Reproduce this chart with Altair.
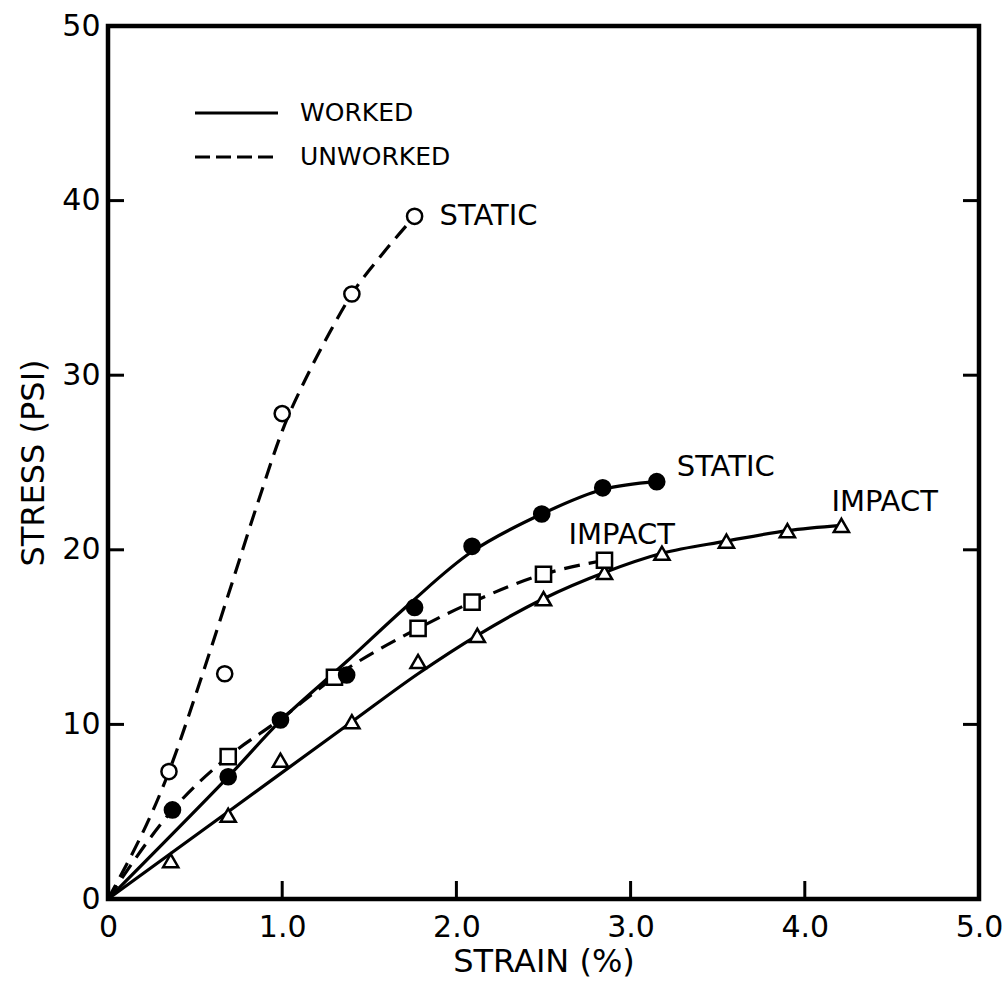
import altair as alt
import pandas as pd

W, H = 871, 873
FONT = "DejaVu Sans"

# ---- measured specimens (strain %, stress psi) ----
uw_static_strain = [0.35, 0.67, 1.00, 1.40, 1.76]
uw_static_stress = [7.3, 12.9, 27.8, 34.65, 39.1]

w_static_strain = [0.37, 0.69, 0.99, 1.37, 1.76, 2.09, 2.49, 2.84, 3.15]
w_static_stress = [5.1, 7.0, 10.25, 12.83, 16.7, 20.2, 22.05, 23.55, 23.9]

uw_impact_strain = [0.69, 1.30, 1.78, 2.09, 2.50, 2.85]
uw_impact_stress = [8.15, 12.7, 15.5, 17.0, 18.6, 19.4]

w_impact_strain = [0.36, 0.69, 0.99, 1.40, 1.78, 2.12, 2.50, 2.85, 3.18, 3.55, 3.90, 4.21]
w_impact_stress = [2.2, 4.8, 7.95, 10.15, 13.6, 15.1, 17.2, 18.7, 19.8, 20.5, 21.1, 21.4]

# ---- faired curves drawn through the data ----
uw_static_fit_x = [0, 0.35, 0.53, 0.68, 0.87, 1.00, 1.15, 1.27, 1.40, 1.58, 1.76]
uw_static_fit_y = [0, 7.3, 12.5, 17.1, 23.0, 26.8, 30.1, 32.4, 34.65, 37.0, 39.1]

w_static_fit_x = [0, 0.69, 0.99, 1.37, 1.73, 2.09, 2.49, 2.84, 3.15]
w_static_fit_y = [0, 7.0, 10.2, 13.6, 16.9, 19.9, 22.05, 23.45, 23.9]

uw_impact_fit_x = [0, 0.37, 0.69, 0.99, 1.30, 1.78, 2.09, 2.50, 2.85]
uw_impact_fit_y = [0, 5.1, 8.15, 10.3, 12.7, 15.5, 17.0, 18.6, 19.4]

w_impact_fit_x = [0, 0.69, 1.40, 1.78, 2.12, 2.50, 2.85, 3.18, 3.55, 3.90, 4.21]
w_impact_fit_y = [0, 5.0, 10.15, 12.9, 15.1, 17.2, 18.7, 19.8, 20.5, 21.1, 21.4]

# ---- axis ticks ----
x_tick_values = [0, 1, 2, 3, 4, 5]
y_tick_values = [0, 10, 20, 30, 40, 50]
x_inner_ticks = [1, 2, 3, 4]
y_inner_ticks = [10, 20, 30, 40]

x_axis = alt.Axis(
    values=x_tick_values, domain=False, ticks=False, grid=False, labelFlush=False,
    labelExpr="datum.value == 0 ? '0' : format(datum.value, '.1f')",
    labelFont=FONT, labelFontSize=30, labelColor="black", labelPadding=13,
    title="STRAIN (%)", titleFont=FONT, titleFontSize=32, titleFontWeight="normal",
    titleColor="black", titlePadding=4,
)
y_axis = alt.Axis(
    values=y_tick_values, domain=False, ticks=False, grid=False, labelFlush=False,
    labelFont=FONT, labelFontSize=30, labelColor="black", labelPadding=8,
    title="STRESS (PSI)", titleFont=FONT, titleFontSize=32, titleFontWeight="normal",
    titleColor="black", titlePadding=11,
)
X = alt.X("strain:Q", scale=alt.Scale(domain=[0, 5], nice=False), axis=x_axis)
Y = alt.Y("stress:Q", scale=alt.Scale(domain=[0, 50], nice=False), axis=y_axis)


def frame(xs, ys):
    return pd.DataFrame({"strain": xs, "stress": ys})


def curve(xs, ys, dashed, how="monotone"):
    style = dict(color="black", strokeWidth=3.2, interpolate=how)
    if dashed:
        style["strokeDash"] = [16, 9]
    return alt.Chart(frame(xs, ys)).mark_line(**style).encode(x=X, y=Y)


def markers(xs, ys, shape, solid):
    return alt.Chart(frame(xs, ys)).mark_point(
        shape=shape, size=230, filled=True, opacity=1,
        fill="black" if solid else "white", stroke="black", strokeWidth=2.5,
    ).encode(x=X, y=Y)


def end_label(xs, ys, text, dx, dy):
    return alt.Chart(frame(xs[-1:], ys[-1:])).mark_text(
        text=text, align="left", baseline="middle", dx=dx, dy=dy,
        font=FONT, fontSize=29, color="black",
    ).encode(x=X, y=Y)


curves = [
    curve(uw_static_fit_x, uw_static_fit_y, True),
    curve(w_static_fit_x, w_static_fit_y, False, "catmull-rom"),
    curve(uw_impact_fit_x, uw_impact_fit_y, True),
    curve(w_impact_fit_x, w_impact_fit_y, False),
]
points = [
    markers(w_impact_strain, w_impact_stress, "triangle-up", False),
    markers(uw_impact_strain, uw_impact_stress, "square", False),
    markers(w_static_strain, w_static_stress, "circle", True),
    markers(uw_static_strain, uw_static_stress, "circle", False),
]
labels = [
    end_label(uw_static_strain, uw_static_stress, "STATIC", 25, 0),
    end_label(w_static_strain, w_static_stress, "STATIC", 20, -15),
    end_label(uw_impact_strain, uw_impact_stress, "IMPACT", -36, -25),
    end_label(w_impact_strain, w_impact_stress, "IMPACT", -10, -23),
]

# inward tick marks on left, right and bottom edges
tick_style = dict(color="black", strokeWidth=3)
y_ticks = pd.DataFrame({"stress": y_inner_ticks})
x_ticks = pd.DataFrame({"strain": x_inner_ticks})
ticks = [
    alt.Chart(y_ticks).mark_rule(**tick_style).encode(y=Y, x=alt.value(0), x2=alt.value(16)),
    alt.Chart(y_ticks).mark_rule(**tick_style).encode(y=Y, x=alt.value(W - 16), x2=alt.value(W)),
    alt.Chart(x_ticks).mark_rule(**tick_style).encode(x=X, y=alt.value(H), y2=alt.value(H - 18)),
]

# line-style key
key_rows = pd.DataFrame({"k": [0]})
key = [
    alt.Chart(key_rows).mark_rule(color="black", strokeWidth=3).encode(
        x=alt.value(87), x2=alt.value(170), y=alt.value(87)),
    alt.Chart(key_rows).mark_rule(color="black", strokeWidth=3, strokeDash=[15, 6]).encode(
        x=alt.value(87), x2=alt.value(170), y=alt.value(131)),
    alt.Chart(key_rows).mark_text(text="WORKED", align="left", baseline="middle",
                                  font=FONT, fontSize=25, color="black").encode(
        x=alt.value(192), y=alt.value(87)),
    alt.Chart(key_rows).mark_text(text="UNWORKED", align="left", baseline="middle",
                                  font=FONT, fontSize=25, color="black").encode(
        x=alt.value(192), y=alt.value(131)),
]

chart = alt.layer(*curves, *points, *labels, *ticks, *key).properties(
    width=W, height=H,
    autosize=alt.AutoSizeParams(type="none"),
    padding={"left": 108, "top": 26, "right": 1003 - 108 - W, "bottom": 986 - 26 - H},
    background="white",
).configure_view(stroke="black", strokeWidth=4.5)

chart.save("out.html", embed_options={"renderer": "svg", "actions": False})
